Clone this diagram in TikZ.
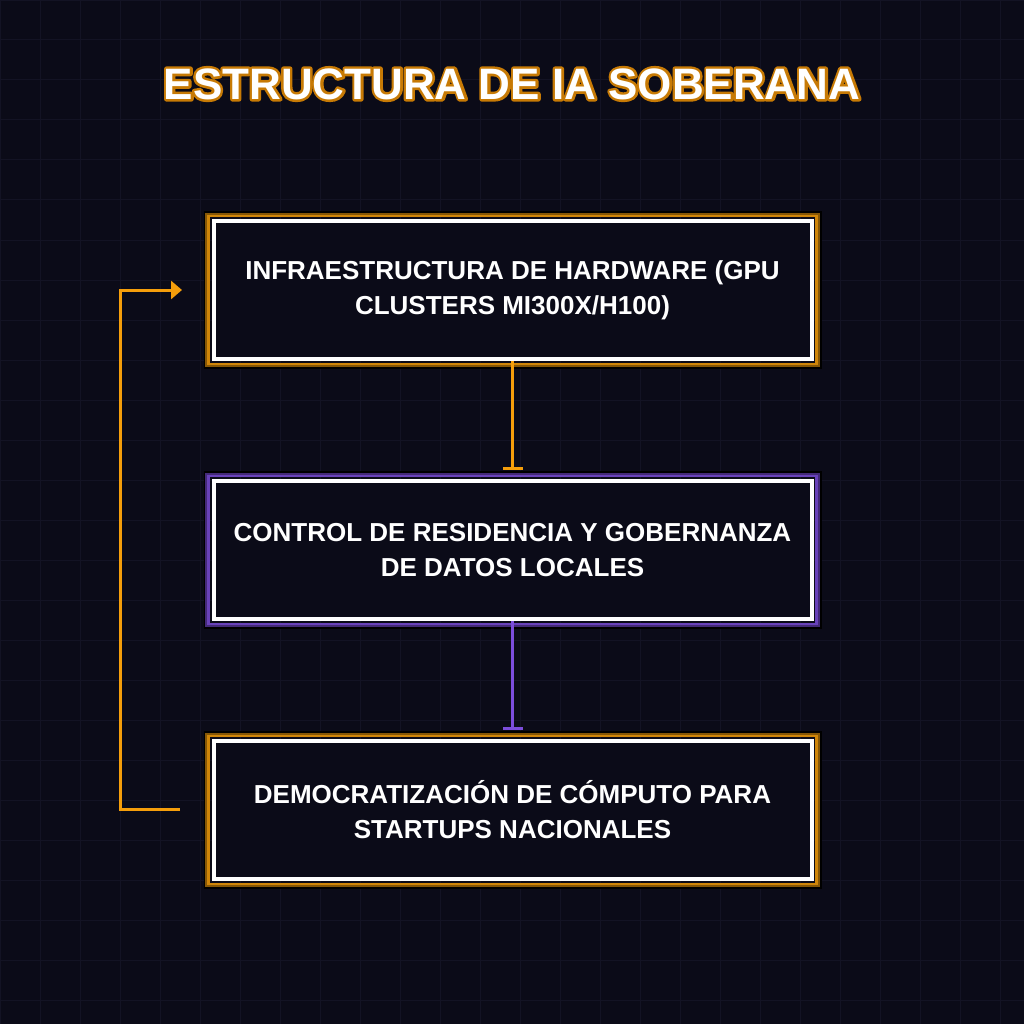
\documentclass[tikz,border=0pt]{standalone}
\usepackage{fontspec}
\setmainfont{Liberation Sans}
\usetikzlibrary{arrows.meta}
\definecolor{bgnavy}{HTML}{0B0B18}
\definecolor{gridc}{HTML}{131324}
\definecolor{morange}{HTML}{F59E0B}
\definecolor{mpurple}{HTML}{7C4DDB}
\tikzset{
  stage/.style={draw=white, line width=4pt, fill=bgnavy, minimum width=598pt,
    minimum height=138pt, align=center, font=\bfseries\fontsize{26}{35}\selectfont, text=white},
  link/.style={line width=3pt}
}
\newcommand{\glowbox}[2]{%
  \draw[black, line width=2pt] (#1.south west) ++(-7,7) rectangle ([shift={(7,-7)}]#1.north east);
  \draw[#2!55!black, line width=2.5pt] (#1.south west) ++(-5,5) rectangle ([shift={(5,-5)}]#1.north east);
  \draw[#2!85!black, line width=2.5pt] (#1.south west) ++(-3,3) rectangle ([shift={(3,-3)}]#1.north east);
}
\newcommand{\outlined}[1]{\rlap{\special{pdf:code q 1 Tr 5 w 1 J 1 j 0.78 0.48 0.02 RG}#1\special{pdf:code Q}}#1}
\begin{document}
\begin{tikzpicture}[x=1pt, y=-1pt]
  \fill[bgnavy] (0,0) rectangle (1024,1024);
  \useasboundingbox (0,0) rectangle (1024,1024);
  \draw[gridc, line width=1pt, step=40pt] (0,0) grid (1024,1024);

  % title
  \node[text=white, font=\bfseries\fontsize{44}{50}\selectfont] (title) at (512,84) {\outlined{ESTRUCTURA DE IA SOBERANA}};

  % stages
  \node[stage] (hw) at (512.5,290) {INFRAESTRUCTURA DE HARDWARE (GPU\\CLUSTERS MI300X/H100)};
  \node[stage] (gov) at (512.5,550) {CONTROL DE RESIDENCIA Y GOBERNANZA\\DE DATOS LOCALES};
  \node[stage] (dem) at (512.5,810) {DEMOCRATIZACIÓN DE CÓMPUTO PARA\\STARTUPS NACIONALES};
  \glowbox{hw}{morange}
  \glowbox{gov}{mpurple}
  \glowbox{dem}{morange}

  % links
  \draw[link, morange, -{Bar[width=20pt]}] (hw.south) -- ([yshift=9]gov.north);
  \draw[link, mpurple, -{Bar[width=20pt]}] (gov.south) -- ([yshift=9]dem.north);
  \coordinate (loopin) at (180,809);
  \coordinate (loopout) at (182,290);
  \draw[link, morange, -{Triangle[width=18pt,length=11pt]}] (loopin) -- (120,809) -- (120,290) -- (loopout);
\end{tikzpicture}
\end{document}
